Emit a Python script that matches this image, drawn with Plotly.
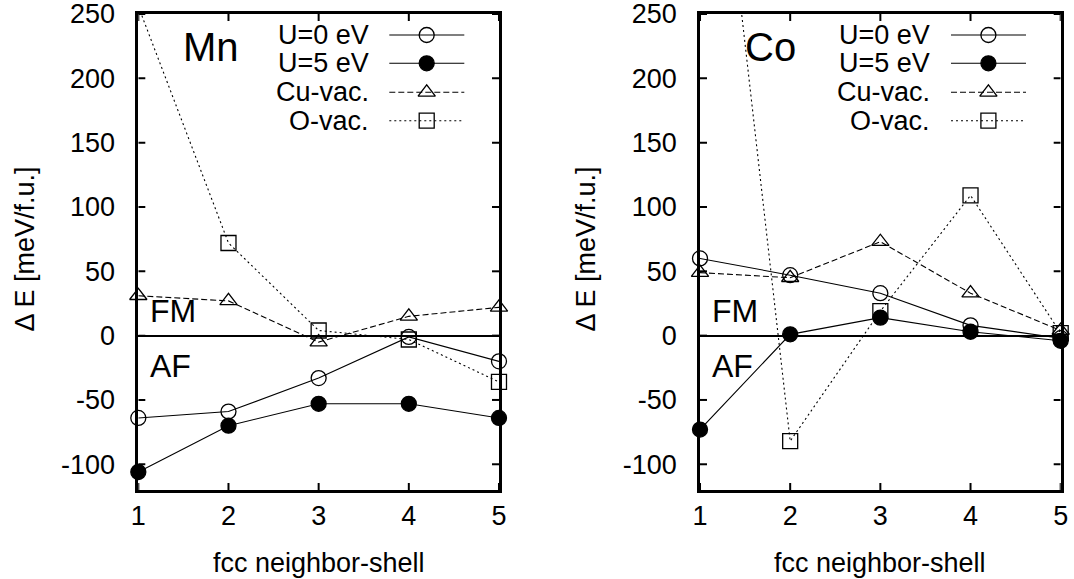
import numpy as np
import plotly.graph_objects as go

# Exchange energy difference per fcc neighbour shell
shells = [1, 2, 3, 4, 5]

mn_u0 = [-64, -59, -33, -1, -20]
mn_u5 = [-106, -70, -53, -53, -64]
mn_cuvac = [31, 27, -5, 15, 22]
mn_ovac = [256, 72, 4, -3, -36]

co_u0 = [60, 47, 33, 8, -2]
co_u5 = [-73, 1, 14, 3, -4]
co_cuvac = [49, 45, 73, 33, 4]
co_ovac = [535, -82, 19, 109, 2]

series_names = ["U=0 eV", "U=5 eV", "Cu-vac.", "O-vac."]
y_tickvals = [-100, -50, 0, 50, 100, 150, 200, 250]
y_ticktext = ["-100", "-50", "0", "50", "100", "150", "200", "250"]
x_tickvals = [1, 2, 3, 4, 5]
y_range = [-120, 250.02]
x_range = [0.9999, 5.0001]

FONT = "Liberation Sans, Arial, Helvetica, sans-serif"
W, H = 1074, 579

# plot-area pixel boxes
panels = [(138.3, 499.0), (700.0, 1060.7)]
top_px, bot_px = 14.0, 490.0

styles = [
    dict(dash="solid", symbol="circle-open"),
    dict(dash="solid", symbol="circle"),
    dict(dash="6px,3px", symbol="triangle-up-open"),
    dict(dash="2px,3px", symbol="square-open"),
]

fig = go.Figure()


def add_series(xref, yref, ys, st):
    ys = np.asarray(ys, dtype=float)
    inside = (ys >= y_range[0]) & (ys <= y_range[1])
    fig.add_trace(go.Scatter(
        x=shells, y=ys, mode="lines", xaxis=xref, yaxis=yref,
        line=dict(color="black", width=1.1, dash=st["dash"]),
        showlegend=False, hoverinfo="skip"))
    fig.add_trace(go.Scatter(
        x=np.asarray(shells)[inside], y=ys[inside], mode="markers",
        xaxis=xref, yaxis=yref, cliponaxis=False,
        marker=dict(symbol=st["symbol"], size=15, color="black",
                    line=dict(color="black", width=1.3)),
        showlegend=False, hoverinfo="skip"))


for ys, st in zip([mn_u0, mn_u5, mn_cuvac, mn_ovac], styles):
    add_series("x", "y", ys, st)
for ys, st in zip([co_u0, co_u5, co_cuvac, co_ovac], styles):
    add_series("x2", "y2", ys, st)

ydom = [1 - bot_px / H, 1 - top_px / H]
pw = panels[0][1] - panels[0][0]
ph = bot_px - top_px

# key samples, drawn on overlay axes measured in pixels from the panel corner
key_rows = [21.0, 49.3, 78.3, 106.7]
key_x0, key_x1, key_xm = 251.0, 326.0, 288.4
for xa, ya in [("x3", "y3"), ("x4", "y4")]:
    for row, st in zip(key_rows, styles):
        fig.add_trace(go.Scatter(
            x=[key_x0, key_x1], y=[row, row], mode="lines", xaxis=xa, yaxis=ya,
            line=dict(color="black", width=1.1, dash=st["dash"]),
            showlegend=False, hoverinfo="skip"))
        fig.add_trace(go.Scatter(
            x=[key_xm], y=[row], mode="markers", xaxis=xa, yaxis=ya,
            cliponaxis=False,
            marker=dict(symbol=st["symbol"], size=15, color="black",
                        line=dict(color="black", width=1.3)),
            showlegend=False, hoverinfo="skip"))

# inward tick marks on all four sides, placed from the tick values through
# the same linear scale as the data axes
TICK_PX = 7


def x_to_px(v):
    return (v - x_range[0]) / (x_range[1] - x_range[0]) * pw


def y_to_px(v):
    return (y_range[1] - v) / (y_range[1] - y_range[0]) * ph


tx, ty = [], []
for v in x_tickvals:
    p = x_to_px(v)
    tx += [p, p, None, p, p, None]
    ty += [ph, ph - TICK_PX, None, 0, TICK_PX, None]
for v in y_tickvals:
    p = y_to_px(v)
    tx += [0, TICK_PX, None, pw, pw - TICK_PX, None]
    ty += [p, p, None, p, p, None]

for xa, ya in [("x3", "y3"), ("x4", "y4")]:
    fig.add_trace(go.Scatter(
        x=tx, y=ty, mode="lines", xaxis=xa, yaxis=ya,
        line=dict(color="black", width=2), connectgaps=False,
        showlegend=False, hoverinfo="skip"))

NB = "\u00a0"
common_x = dict(range=x_range, tickvals=x_tickvals, ticks="", showline=True,
                linewidth=2.5, linecolor="black", mirror=True, showgrid=False,
                zeroline=False,
                tickfont=dict(family=FONT, size=27, color="black"),
                ticklabeloverflow="allow", automargin=False, fixedrange=True)
common_y = dict(range=y_range, tickvals=y_tickvals,
                ticktext=[t + NB * 2 for t in y_ticktext],
                ticks="", showline=True, linewidth=2.5, linecolor="black",
                mirror=True, showgrid=False, zeroline=True,
                zerolinecolor="black", zerolinewidth=2, domain=ydom,
                tickfont=dict(family=FONT, size=27, color="black"),
                ticklabeloverflow="allow", automargin=False, fixedrange=True)

hidden = dict(visible=False, showgrid=False, zeroline=False, fixedrange=True,
              automargin=False)

fig.update_layout(
    template="none",
    width=W, height=H, margin=dict(l=0, r=0, t=0, b=0, pad=0),
    paper_bgcolor="white", plot_bgcolor="white", showlegend=False,
    font=dict(family=FONT, size=27, color="black"),
)

for i, (x0, x1) in enumerate(panels):
    n = "" if i == 0 else "2"
    base_x = "x" if i == 0 else "x2"
    base_y = "y" if i == 0 else "y2"
    dom = [x0 / W, x1 / W]
    fig.update_layout(**{
        f"xaxis{n}": dict(common_x, domain=dom, anchor=base_y),
        f"yaxis{n}": dict(common_y, anchor=base_x),
    })
    k = 3 + i
    fig.update_layout(**{
        f"xaxis{k}": dict(hidden, overlaying=base_x, range=[0, pw],
                          anchor=f"y{k}"),
        f"yaxis{k}": dict(hidden, overlaying=base_y, range=[ph, 0],
                          anchor=f"x{k}"),
    })


def px(xp):
    return xp / W


def py(yp):
    return 1 - yp / H


annotations = []
for (x0, x1), label in zip(panels, ["Mn", "Co"]):
    annotations.append(dict(text=label, x=px(x0 + 42.5), y=py(47), xref="paper",
                            yref="paper", xanchor="left", yanchor="middle",
                            showarrow=False, font=dict(size=40)))
    annotations.append(dict(text="FM", x=px(x0 + 10), y=py(311), xref="paper",
                            yref="paper", xanchor="left", yanchor="middle",
                            showarrow=False, font=dict(size=32)))
    annotations.append(dict(text="AF", x=px(x0 + 10), y=py(366), xref="paper",
                            yref="paper", xanchor="left", yanchor="middle",
                            showarrow=False, font=dict(size=32)))
    for row, name in zip(key_rows, series_names):
        annotations.append(dict(text=name, x=px(x0 + 232.4), y=py(top_px + row),
                                xref="paper", yref="paper", xanchor="right",
                                yanchor="middle", showarrow=False,
                                font=dict(size=27)))
    annotations.append(dict(text="fcc neighbor-shell", x=px((x0 + x1) / 2),
                            y=py(563), xref="paper", yref="paper",
                            xanchor="center", yanchor="middle", showarrow=False,
                            font=dict(size=27)))

for xc in [24.5, 585.5]:
    annotations.append(dict(text="Δ E [meV/f.u.]", x=xc / W, y=1 - 249 / H,
                            xref="paper", yref="paper", xanchor="center",
                            yanchor="middle", textangle=-90, showarrow=False,
                            font=dict(size=27)))

fig.update_layout(annotations=annotations)

fig.write_html("out.html")
